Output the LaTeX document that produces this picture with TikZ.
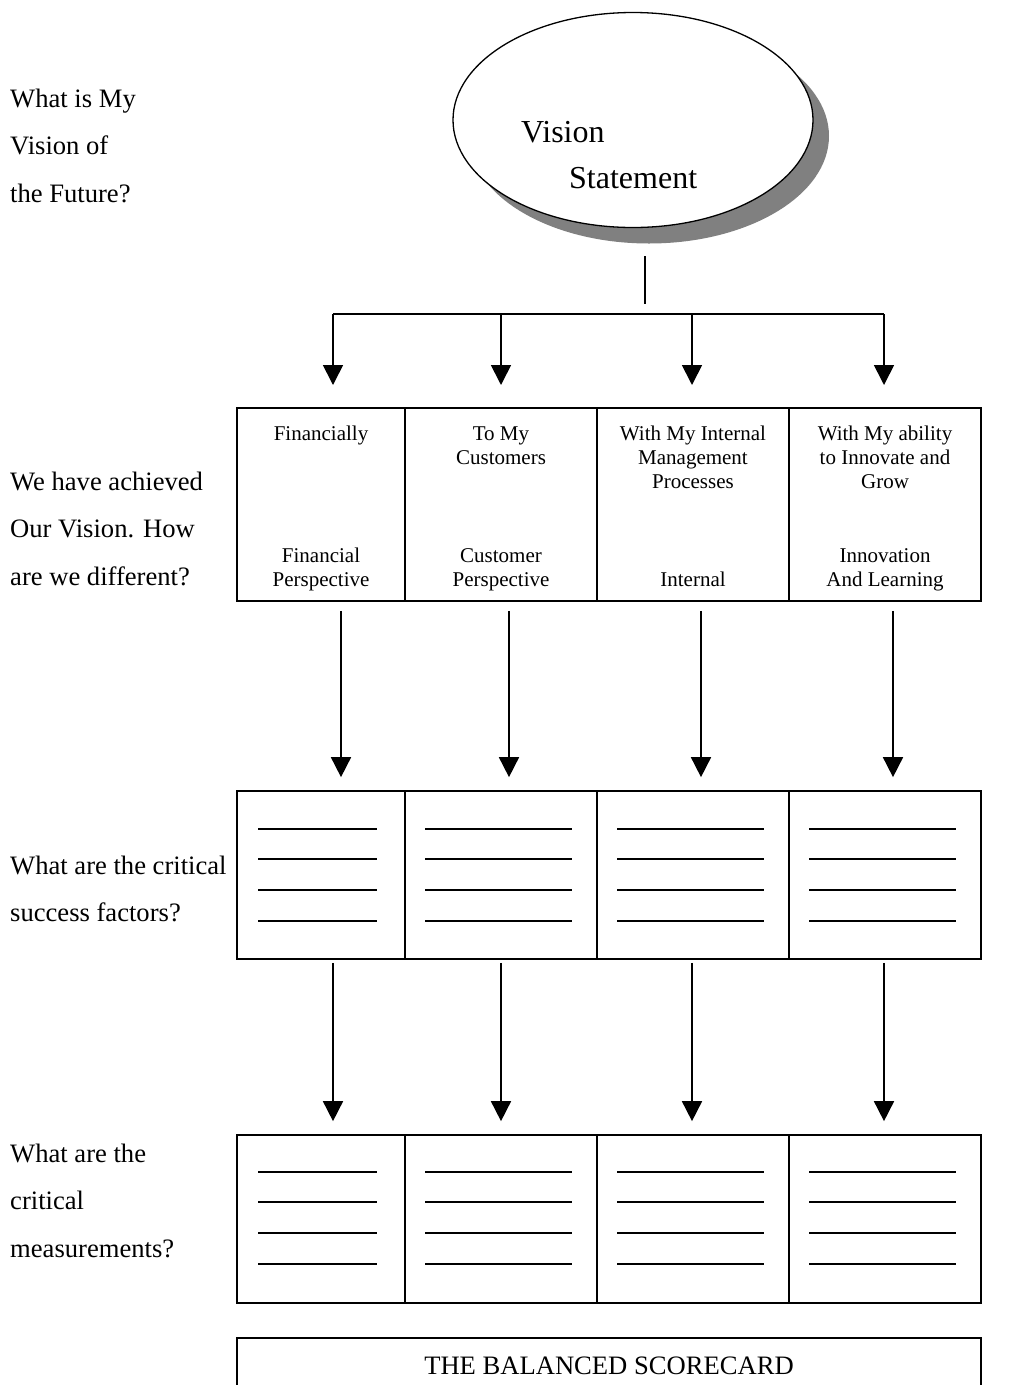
\documentclass[tikz,border=0pt]{standalone}
\usepackage{fontspec}
\setmainfont{Liberation Serif}
\usetikzlibrary{arrows.meta,shapes.geometric}

\begin{document}
\begin{tikzpicture}[x=1pt,y=-1pt,
  cell/.style={draw, line width=1.7pt, inner sep=0pt},
  conn/.style={line width=1.7pt},
  arr/.style={conn, -{Triangle[width=20pt,length=20pt]}},
  blank/.style={line width=1.2pt},
  side/.style={anchor=base west, inner sep=0pt, font=\fontsize{26.6}{47.5}\selectfont},
  celltxt/.style={anchor=base, inner sep=0pt, font=\fontsize{21}{24}\selectfont},
  big/.style={anchor=base west, inner sep=0pt, font=\fontsize{32}{32}\selectfont},
]
\fill[white] (0,0) rectangle (1009,1385);
\useasboundingbox (0,0) rectangle (1009,1385);

% vision ellipse with its drop shadow
\node[ellipse, fill=gray, minimum width=360pt, minimum height=215pt, inner sep=0pt] (visionshadow) at (649,136) {};
\node[ellipse, draw, fill=white, line width=1.3pt, minimum width=360pt, minimum height=215pt, inner sep=0pt] (vision) at (633,120) {};
\node[big] (vis1) at (521,142) {Vision};
\node[big] (vis2) at (569,188) {Statement};

% questions down the left side
\node[side] (q1) at (10,107) {\parbox[t]{220pt}{\raggedright What is My\\Vision of\\the Future?}};
\node[side] (q2) at (10,490) {\parbox[t]{220pt}{\raggedright We have achieved\\Our Vision. How\\are we different?}};
\node[side] (q3) at (10,874) {\parbox[t]{230pt}{\raggedright What are the critical\\success factors?}};
\node[side] (q4) at (10,1162) {\parbox[t]{220pt}{\raggedright What are the\\critical\\measurements?}};

% perspectives row
\node[cell, minimum width=168pt, minimum height=193pt] (c11) at (321,504.5) {};
\node[cell, minimum width=192pt, minimum height=193pt] (c12) at (501,504.5) {};
\node[cell, minimum width=192pt, minimum height=193pt] (c13) at (693,504.5) {};
\node[cell, minimum width=192pt, minimum height=193pt] (c14) at (885,504.5) {};

\node[celltxt] (t11) at (321,440) {\parbox[t]{160pt}{\centering Financially}};
\node[celltxt] (t12) at (501,440) {\parbox[t]{180pt}{\centering To My\\Customers}};
\node[celltxt] (t13) at (693,440) {\parbox[t]{180pt}{\centering With My Internal\\Management\\Processes}};
\node[celltxt] (t14) at (885,440) {\parbox[t]{180pt}{\centering With My ability\\to Innovate and\\Grow}};
\node[celltxt] (p11) at (321,586) {\parbox[b]{160pt}{\centering Financial\\Perspective}};
\node[celltxt] (p12) at (501,586) {\parbox[b]{180pt}{\centering Customer\\Perspective}};
\node[celltxt] (p13) at (693,586) {\parbox[b]{180pt}{\centering Internal}};
\node[celltxt] (p14) at (885,586) {\parbox[b]{180pt}{\centering Innovation\\And Learning}};

% critical success factors row
\node[cell, minimum width=168pt, minimum height=168pt] (c21) at (321,875) {};
\node[cell, minimum width=192pt, minimum height=168pt] (c22) at (501,875) {};
\node[cell, minimum width=192pt, minimum height=168pt] (c23) at (693,875) {};
\node[cell, minimum width=192pt, minimum height=168pt] (c24) at (885,875) {};

% critical measurements row
\node[cell, minimum width=168pt, minimum height=168pt] (c31) at (321,1219) {};
\node[cell, minimum width=192pt, minimum height=168pt] (c32) at (501,1219) {};
\node[cell, minimum width=192pt, minimum height=168pt] (c33) at (693,1219) {};
\node[cell, minimum width=192pt, minimum height=168pt] (c34) at (885,1219) {};

% blanks to fill in
\foreach \y in {829,859,890,921,1172,1202,1233,1264} {
  \draw[blank] (258,\y) -- (377,\y);
  \draw[blank] (425,\y) -- (572,\y);
  \draw[blank] (617,\y) -- (764,\y);
  \draw[blank] (809,\y) -- (956,\y);
}

% title box
\node[cell, minimum width=744pt, minimum height=62pt] (title) at (609,1369) {};
\node[anchor=base, inner sep=0pt, font=\fontsize{26.6}{26.6}\selectfont] (titletxt) at (609,1374) {THE BALANCED SCORECARD};

% vision to perspectives
\coordinate (b1) at (333,314);
\coordinate (b2) at (501,314);
\coordinate (b3) at (692,314);
\coordinate (b4) at (884,314);
\coordinate (tips) at (0,385);
\draw[conn] ([xshift=12pt,yshift=-28pt]vision.south) -- ([xshift=12pt,yshift=-76pt]vision.south);
\draw[conn] (b1) -- (b4);
\foreach \b in {b1,b2,b3,b4} \draw[arr] (\b) -- (\b |- tips);

% perspectives to success factors
\draw[arr] ([xshift=20pt,yshift=-9pt]c11.south) -- ([xshift=20pt,yshift=13pt]c21.north);
\draw[arr] ([xshift=8pt,yshift=-9pt]c12.south) -- ([xshift=8pt,yshift=13pt]c22.north);
\draw[arr] ([xshift=8pt,yshift=-9pt]c13.south) -- ([xshift=8pt,yshift=13pt]c23.north);
\draw[arr] ([xshift=8pt,yshift=-9pt]c14.south) -- ([xshift=8pt,yshift=13pt]c24.north);

% success factors to measurements
\draw[arr] ([xshift=12pt,yshift=-3pt]c21.south) -- ([xshift=12pt,yshift=13pt]c31.north);
\draw[arr] ([yshift=-3pt]c22.south) -- ([yshift=13pt]c32.north);
\draw[arr] ([xshift=-1pt,yshift=-3pt]c23.south) -- ([xshift=-1pt,yshift=13pt]c33.north);
\draw[arr] ([xshift=-1pt,yshift=-3pt]c24.south) -- ([xshift=-1pt,yshift=13pt]c34.north);
\end{tikzpicture}
\end{document}
